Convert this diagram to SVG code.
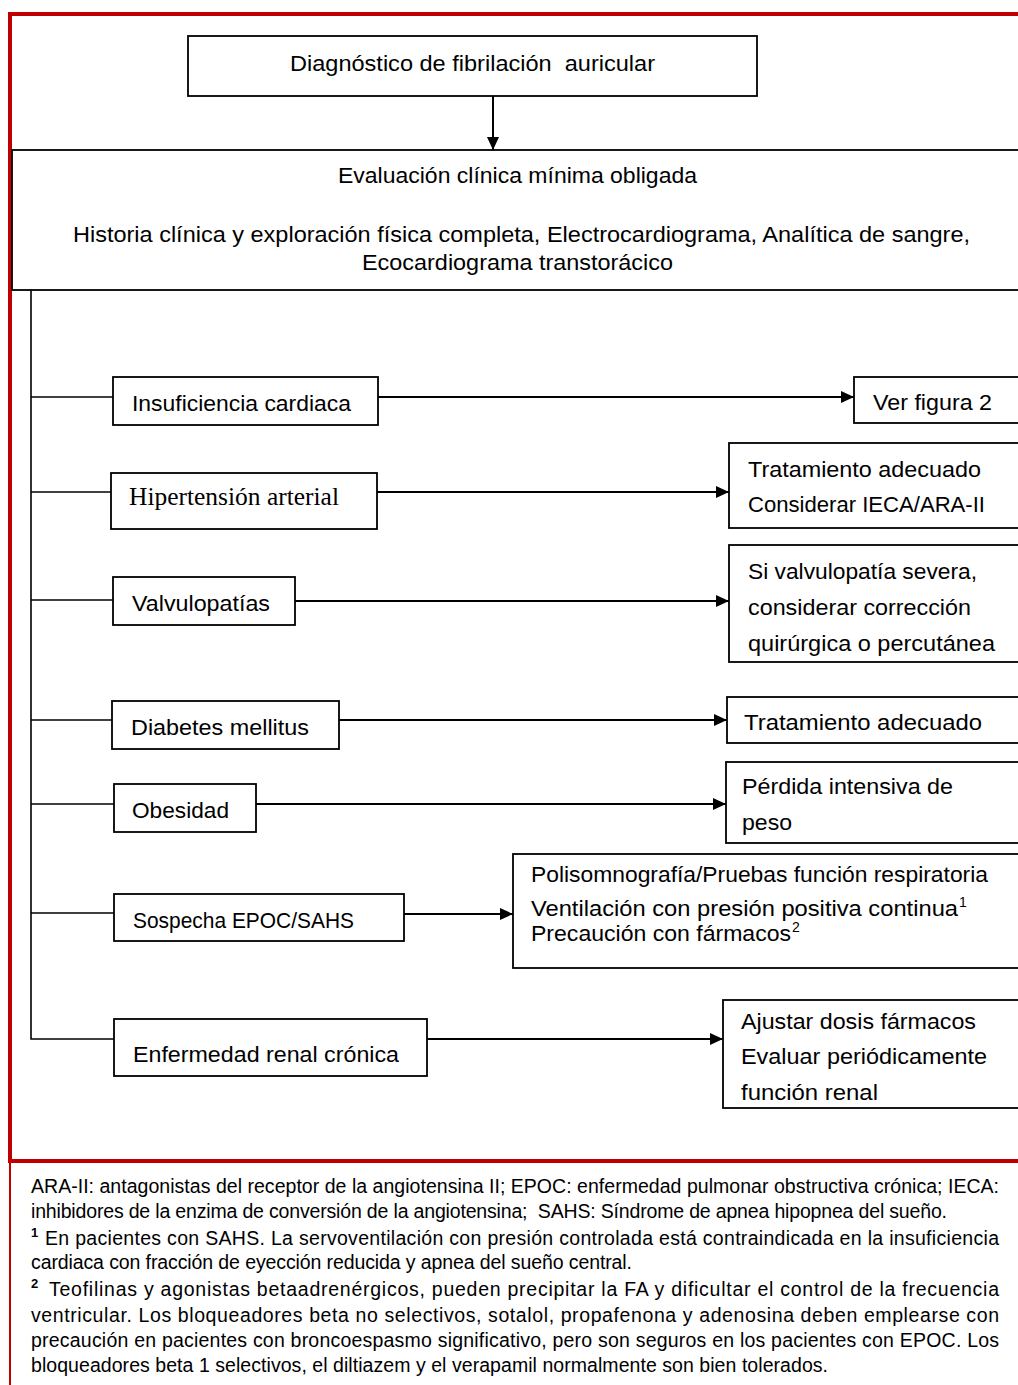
<svg xmlns="http://www.w3.org/2000/svg" width="1018" height="1385" viewBox="0 0 1018 1385">
  <style>
    .frame { fill: none; stroke: #c00000; }
    .box { fill: #ffffff; stroke: #000000; stroke-width: 1.8; }
    .lbl { font-family: "Liberation Sans", Arial, sans-serif; font-size: 22.5px; fill: #000000; }
    .serif { font-family: "Liberation Serif", "Times New Roman", serif; font-size: 25px; fill: #000000; }
    .sup { font-family: "Liberation Sans", Arial, sans-serif; font-size: 14px; fill: #000000; }
    .note { font-family: "Liberation Sans", Arial, sans-serif; font-size: 19.5px; fill: #000000; }
    .nsup { font-family: "Liberation Sans", Arial, sans-serif; font-size: 13px; font-weight: bold; fill: #000000; }
    .branch { fill: none; stroke: #000000; stroke-width: 1.6; }
    .arrow { fill: none; stroke: #000000; stroke-width: 2; marker-end: url(#head); }
  </style>
  <defs>
    <marker id="head" markerUnits="userSpaceOnUse" markerWidth="14" markerHeight="12" refX="13" refY="6" orient="auto">
      <path d="M0,0 L13,6 L0,12 z" fill="#000000"/>
    </marker>
  </defs>

  <rect width="1018" height="1385" fill="#ffffff"/>

  <!-- red page frame -->
  <g id="frame">
    <line class="frame" x1="8" y1="14" x2="1018" y2="14" stroke-width="4"/>
    <line class="frame" x1="10" y1="12" x2="10" y2="1163" stroke-width="4"/>
    <line class="frame" x1="8" y1="1161" x2="1018" y2="1161" stroke-width="4"/>
    <line class="frame" x1="10" y1="1161" x2="10" y2="1385" stroke-width="2"/>
  </g>

  <!-- connectors -->
  <g id="connectors">
    <line class="arrow" x1="493" y1="96" x2="493" y2="150"/>
    <polyline class="branch" points="31,290 31,1039 114,1039"/>
    <line class="branch" x1="31" y1="397" x2="113" y2="397"/>
    <line class="branch" x1="31" y1="492" x2="111" y2="492"/>
    <line class="branch" x1="31" y1="600" x2="113" y2="600"/>
    <line class="branch" x1="31" y1="720" x2="112" y2="720"/>
    <line class="branch" x1="31" y1="804" x2="114" y2="804"/>
    <line class="branch" x1="31" y1="913" x2="114" y2="913"/>
    <line class="arrow" x1="378" y1="397" x2="854" y2="397"/>
    <line class="arrow" x1="377" y1="492" x2="729" y2="492"/>
    <line class="arrow" x1="295" y1="601" x2="729" y2="601"/>
    <line class="arrow" x1="339" y1="720" x2="727" y2="720"/>
    <line class="arrow" x1="256" y1="804" x2="726" y2="804"/>
    <line class="arrow" x1="404" y1="914" x2="513" y2="914"/>
    <line class="arrow" x1="427" y1="1039" x2="723" y2="1039"/>
  </g>

  <g id="diagnostico">
    <rect class="box" x="188" y="36" width="569" height="60"/>
    <text class="lbl" x="290" y="71" textLength="365" lengthAdjust="spacingAndGlyphs" xml:space="preserve">Diagnóstico de fibrilación  auricular</text>
  </g>

  <g id="evaluacion">
    <rect class="box" x="12" y="150" width="1020" height="140"/>
    <text class="lbl" x="338" y="183" textLength="359" lengthAdjust="spacingAndGlyphs">Evaluación clínica mínima obligada</text>
    <text class="lbl" x="73" y="242" textLength="897" lengthAdjust="spacingAndGlyphs">Historia clínica y exploración física completa, Electrocardiograma, Analítica de sangre,</text>
    <text class="lbl" x="362" y="270" textLength="311" lengthAdjust="spacingAndGlyphs">Ecocardiograma transtorácico</text>
  </g>

  <g id="insuficiencia">
    <rect class="box" x="113" y="377" width="265" height="48"/>
    <text class="lbl" x="132" y="411" textLength="219" lengthAdjust="spacingAndGlyphs">Insuficiencia cardiaca</text>
  </g>
  <g id="ver-figura">
    <rect class="box" x="854" y="377" width="180" height="46"/>
    <text class="lbl" x="873" y="410" textLength="119" lengthAdjust="spacingAndGlyphs">Ver figura 2</text>
  </g>

  <g id="hipertension">
    <rect class="box" x="111" y="473" width="266" height="56"/>
    <text class="serif" x="129" y="505" textLength="210" lengthAdjust="spacingAndGlyphs">Hipertensión arterial</text>
  </g>
  <g id="hta-tratamiento">
    <rect class="box" x="729" y="443" width="300" height="85"/>
    <text class="lbl" x="748" y="477" textLength="233" lengthAdjust="spacingAndGlyphs">Tratamiento adecuado</text>
    <text class="lbl" x="748" y="512" textLength="237" lengthAdjust="spacingAndGlyphs">Considerar IECA/ARA-II</text>
  </g>

  <g id="valvulopatias">
    <rect class="box" x="113" y="577" width="182" height="48"/>
    <text class="lbl" x="132" y="611" textLength="138" lengthAdjust="spacingAndGlyphs">Valvulopatías</text>
  </g>
  <g id="valv-correccion">
    <rect class="box" x="729" y="545" width="300" height="117"/>
    <text class="lbl" x="748" y="579" textLength="229" lengthAdjust="spacingAndGlyphs">Si valvulopatía severa,</text>
    <text class="lbl" x="748" y="615" textLength="223" lengthAdjust="spacingAndGlyphs">considerar corrección</text>
    <text class="lbl" x="748" y="651" textLength="247" lengthAdjust="spacingAndGlyphs">quirúrgica o percutánea</text>
  </g>

  <g id="diabetes">
    <rect class="box" x="112" y="701" width="227" height="48"/>
    <text class="lbl" x="131" y="735" textLength="178" lengthAdjust="spacingAndGlyphs">Diabetes mellitus</text>
  </g>
  <g id="dm-tratamiento">
    <rect class="box" x="727" y="697" width="300" height="46"/>
    <text class="lbl" x="744" y="730" textLength="238" lengthAdjust="spacingAndGlyphs">Tratamiento adecuado</text>
  </g>

  <g id="obesidad">
    <rect class="box" x="114" y="784" width="142" height="48"/>
    <text class="lbl" x="132" y="818" textLength="97" lengthAdjust="spacingAndGlyphs">Obesidad</text>
  </g>
  <g id="perdida-peso">
    <rect class="box" x="726" y="762" width="300" height="81"/>
    <text class="lbl" x="742" y="794" textLength="211" lengthAdjust="spacingAndGlyphs">Pérdida intensiva de</text>
    <text class="lbl" x="742" y="830" textLength="50" lengthAdjust="spacingAndGlyphs">peso</text>
  </g>

  <g id="epoc-sahs">
    <rect class="box" x="114" y="894" width="290" height="47"/>
    <text class="lbl" x="133" y="928" textLength="221" lengthAdjust="spacingAndGlyphs">Sospecha EPOC/SAHS</text>
  </g>
  <g id="epoc-pruebas">
    <rect class="box" x="513" y="854" width="520" height="114"/>
    <text class="lbl" x="531" y="882" textLength="457" lengthAdjust="spacingAndGlyphs">Polisomnografía/Pruebas función respiratoria</text>
    <text class="lbl" x="531" y="916" textLength="427" lengthAdjust="spacingAndGlyphs">Ventilación con presión positiva continua</text>
    <text class="sup" x="959" y="907">1</text>
    <text class="lbl" x="531" y="941" textLength="260" lengthAdjust="spacingAndGlyphs">Precaución con fármacos</text>
    <text class="sup" x="792" y="932">2</text>
  </g>

  <g id="renal">
    <rect class="box" x="114" y="1019" width="313" height="57"/>
    <text class="lbl" x="133" y="1062" textLength="266" lengthAdjust="spacingAndGlyphs">Enfermedad renal crónica</text>
  </g>
  <g id="renal-ajuste">
    <rect class="box" x="723" y="1000" width="310" height="108"/>
    <text class="lbl" x="741" y="1029" textLength="235" lengthAdjust="spacingAndGlyphs">Ajustar dosis fármacos</text>
    <text class="lbl" x="741" y="1064" textLength="246" lengthAdjust="spacingAndGlyphs">Evaluar periódicamente</text>
    <text class="lbl" x="741" y="1100" textLength="137" lengthAdjust="spacingAndGlyphs">función renal</text>
  </g>

  <!-- abbreviations and footnotes -->
  <g id="notas">
    <text class="note" x="31" y="1193" textLength="968">ARA-II: antagonistas del receptor de la angiotensina II; EPOC: enfermedad pulmonar obstructiva crónica; IECA:</text>
    <text class="note" x="31" y="1218" textLength="916" xml:space="preserve">inhibidores de la enzima de conversión de la angiotensina;  SAHS: Síndrome de apnea hipopnea del sueño.</text>
    <text class="nsup" x="31" y="1237">1</text>
    <text class="note" x="45" y="1245" textLength="954">En pacientes con SAHS. La servoventilación con presión controlada está contraindicada en la insuficiencia</text>
    <text class="note" x="31" y="1269" textLength="601">cardiaca con fracción de eyección reducida y apnea del sueño central.</text>
    <text class="nsup" x="31" y="1288">2</text>
    <text class="note" x="49" y="1296" textLength="950">Teofilinas y agonistas betaadrenérgicos, pueden precipitar la FA y dificultar el control de la frecuencia</text>
    <text class="note" x="31" y="1322" textLength="968">ventricular. Los bloqueadores beta no selectivos, sotalol, propafenona y adenosina deben emplearse con</text>
    <text class="note" x="31" y="1347" textLength="968">precaución en pacientes con broncoespasmo significativo, pero son seguros en los pacientes con EPOC. Los</text>
    <text class="note" x="31" y="1372" textLength="797">bloqueadores beta 1 selectivos, el diltiazem y el verapamil normalmente son bien tolerados.</text>
  </g>
</svg>
